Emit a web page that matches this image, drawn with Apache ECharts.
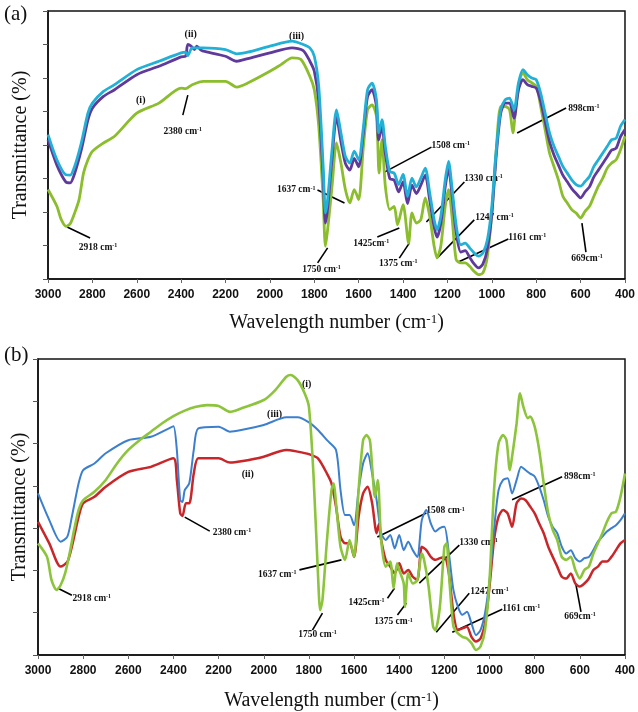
<!DOCTYPE html>
<html>
<head>
<meta charset="utf-8">
<script src="https://cdn.jsdelivr.net/npm/echarts@6/dist/echarts.min.js"></script>
<style>
  html, body { margin: 0; padding: 0; background: #fff; }
  #chart { width: 638px; height: 712px; }
</style>
</head>
<body>
<div id="chart"></div>
<script>
// x tick labels (wavenumber, cm-1)
const xTicks = [3000, 2800, 2600, 2400, 2200, 2000, 1800, 1600, 1400, 1200, 1000, 800, 600, 400]

// panel (a) curves: [wavenumber, transmittance]
const aGreen = [
  [3000, 26.7], [2960, 21.7], [2940, 17.7], [2918, 15.7], [2900, 16.5], [2880, 19.7], [2860, 23.7],
  [2840, 31.6], [2820, 35.6], [2800, 38.1], [2750, 40.6], [2700, 42.6], [2600, 49.5], [2500, 52.5],
  [2400, 57], [2380, 56.8], [2350, 58], [2300, 59], [2200, 59], [2150, 57.3], [2100, 58.5],
  [2000, 62], [1950, 64], [1900, 66], [1860, 65.5], [1820, 60.5], [1800, 56.5], [1780, 45.6],
  [1760, 23.7], [1750, 9.8], [1740, 14.7], [1720, 27.7], [1700, 40.6], [1680, 34.6], [1660, 26.7],
  [1640, 22.7], [1620, 26.7], [1600, 23.7], [1580, 38.6], [1560, 50.5], [1540, 52], [1520, 48.6],
  [1508, 31.6], [1495, 41.6], [1480, 27.7], [1460, 20.7], [1440, 21.7], [1425, 16.2], [1400, 22.2],
  [1375, 10.7], [1360, 19.7], [1340, 16.7], [1320, 17.7], [1300, 24.2], [1280, 18.7], [1260, 9.8],
  [1247, 6.3], [1230, 9.8], [1210, 21.7], [1195, 26.7], [1180, 19], [1161, 5.8], [1140, 4.8],
  [1120, 4.8], [1100, 3.8], [1080, 2.3], [1060, 1.3], [1040, 1.8], [1020, 6.8], [1000, 19.7],
  [980, 38.6], [960, 51.5], [940, 51.5], [920, 50.5], [905, 43.6], [890, 52.5], [870, 60.5],
  [860, 61.5], [840, 59.5], [800, 57.5], [780, 51.5], [760, 44.6], [740, 37.6], [720, 33.6],
  [700, 29.6], [680, 24.7], [660, 22.7], [640, 20.7], [620, 19.7], [600, 18.2], [580, 20.2],
  [560, 21.7], [540, 24.7], [520, 27.7], [500, 30.1], [480, 33.1], [460, 34.6], [440, 35.6],
  [420, 38.6], [400, 42.6]
]
const aPurple = [
  [3000, 41.6], [2960, 34], [2920, 29], [2900, 28.7], [2880, 31.5], [2850, 38.5], [2820, 47.5],
  [2800, 51], [2750, 54.5], [2700, 56.5], [2600, 61], [2500, 63.5], [2400, 66.3], [2380, 66.5],
  [2370, 70], [2355, 69.5], [2340, 68.5], [2330, 69.5], [2310, 68.3], [2300, 68], [2200, 66.5],
  [2150, 65], [2100, 65.8], [2000, 67.5], [1900, 69], [1850, 68.2], [1820, 65], [1800, 62],
  [1780, 53], [1760, 30], [1750, 16.7], [1740, 21], [1720, 36], [1700, 48.5], [1680, 41],
  [1660, 34.5], [1640, 32.5], [1620, 36], [1600, 33.5], [1580, 43], [1560, 54.5], [1540, 56.5],
  [1520, 51.5], [1510, 41.5], [1495, 45.5], [1480, 37.5], [1460, 30], [1440, 29.5], [1420, 26],
  [1400, 29], [1380, 22.5], [1360, 28], [1340, 25.5], [1320, 28], [1300, 31], [1280, 23.5],
  [1260, 15.5], [1247, 12.5], [1230, 16.5], [1210, 27.5], [1195, 33], [1180, 25.5], [1160, 13.5],
  [1140, 8], [1120, 8.5], [1100, 6.5], [1080, 4.5], [1060, 3.3], [1040, 4.5], [1020, 9],
  [1000, 19.5], [980, 37], [960, 49.5], [940, 52.5], [920, 52.5], [900, 48], [880, 56.5],
  [860, 59.5], [840, 58], [820, 57.5], [800, 57], [780, 53], [760, 47], [740, 41], [720, 37],
  [700, 34], [680, 31], [660, 29], [640, 27], [620, 25.5], [600, 24.2], [580, 26], [560, 27.5],
  [540, 30.5], [520, 32.5], [500, 34.5], [480, 36.5], [460, 38.5], [440, 39], [420, 42.5], [400, 44.6]
]
const aCyan = [
  [3000, 43.1], [2960, 35.6], [2920, 31.1], [2900, 31], [2880, 33.6], [2850, 40.6], [2820, 49.5],
  [2800, 52.5], [2750, 56], [2700, 58], [2600, 62.5], [2500, 65], [2400, 67.5], [2380, 67.7],
  [2370, 66.7], [2350, 69], [2300, 69], [2200, 68.5], [2150, 67.2], [2100, 67.7], [2000, 69.5],
  [1900, 71], [1850, 70], [1820, 69], [1800, 66.5], [1780, 57.5], [1760, 33.6], [1750, 19.7],
  [1740, 23.7], [1720, 38.6], [1700, 50.5], [1680, 43.6], [1660, 36.6], [1640, 34.6], [1620, 38.2],
  [1600, 35.6], [1580, 44.6], [1560, 56.5], [1540, 58.5], [1520, 53.5], [1510, 43.6], [1495, 47.6],
  [1480, 39.6], [1460, 32.1], [1440, 31.6], [1420, 28.2], [1400, 31.2], [1380, 24.7], [1360, 30.1],
  [1340, 27.5], [1320, 30.1], [1300, 33.1], [1280, 25.7], [1260, 17.7], [1247, 14.7], [1230, 18.7],
  [1210, 29.6], [1195, 35.1], [1180, 27.6], [1160, 15.7], [1140, 10.2], [1120, 10.7], [1100, 9.3],
  [1080, 7.8], [1060, 6.8], [1040, 7.8], [1020, 11.7], [1000, 21.7], [980, 38.6], [960, 50.5],
  [940, 53.5], [920, 54], [900, 50.5], [880, 58.5], [860, 62.5], [840, 61], [820, 60], [800, 59.5],
  [780, 55.5], [760, 49.5], [740, 43.6], [720, 39.6], [700, 36.6], [680, 33.6], [660, 31.6],
  [640, 29.6], [620, 28.2], [600, 27.7], [580, 29.1], [560, 30.6], [540, 33.6], [520, 35.6],
  [500, 37.6], [480, 39.6], [460, 41.6], [440, 42], [420, 45.6], [400, 47.6]
]

// panel (b) curves
const bGreen = [
  [3000, 26.4], [2960, 23.2], [2940, 17.7], [2918, 15.4], [2900, 16.5], [2880, 19.3], [2860, 24],
  [2840, 29.6], [2820, 34.3], [2800, 36.6], [2750, 38.6], [2700, 41.4], [2650, 45.3], [2600, 48.5],
  [2550, 50.8], [2500, 52.8], [2450, 54.8], [2400, 56.5], [2350, 57.8], [2300, 58.7], [2250, 59.1],
  [2200, 58.9], [2150, 57.5], [2100, 58.3], [2000, 60.3], [1950, 62.6], [1900, 65.8], [1880, 66.2],
  [1850, 65], [1820, 62], [1800, 58.7], [1780, 42.9], [1760, 19.3], [1750, 10.6], [1740, 13],
  [1720, 27.2], [1700, 39], [1690, 40.6], [1680, 36], [1660, 25.6], [1640, 22.5], [1620, 27.2],
  [1600, 23.2], [1580, 39], [1560, 50.8], [1545, 52], [1530, 50.8], [1520, 44.5], [1508, 37.4],
  [1495, 41.4], [1480, 27.2], [1460, 20.9], [1440, 22.1], [1425, 15.8], [1410, 21.7], [1400, 20.1],
  [1380, 16.9], [1375, 11.4], [1360, 19.3], [1340, 16.9], [1320, 17.7], [1300, 24], [1290, 22.5],
  [1270, 16.2], [1250, 6.7], [1240, 5.9], [1220, 11.4], [1200, 25.6], [1190, 26.4], [1180, 19.3],
  [1160, 6.7], [1140, 5.1], [1120, 4.3], [1100, 3.9], [1080, 2.8], [1060, 1.2], [1040, 2],
  [1020, 5.9], [1000, 17.7], [980, 39], [960, 50], [940, 52], [925, 50.8], [910, 43.7], [900, 46.9],
  [880, 54.8], [865, 61.9], [850, 58.7], [830, 56], [820, 56.4], [800, 54], [780, 48.5], [760, 40.6],
  [740, 33.5], [720, 29.6], [700, 27.2], [680, 23.2], [660, 22.5], [640, 23.2], [620, 20.1],
  [600, 18.1], [580, 20.1], [560, 20.9], [540, 24], [520, 26.4], [500, 28.8], [480, 31.5],
  [460, 33.5], [440, 33.9], [420, 37.4], [400, 42.9]
]
const bRed = [
  [3000, 31.5], [2950, 26.4], [2900, 20.9], [2870, 22], [2850, 25.6], [2820, 32.7], [2800, 35.9],
  [2750, 37.4], [2700, 39.8], [2600, 43.3], [2500, 44.5], [2400, 46.5], [2385, 41.4], [2370, 33.5],
  [2360, 32.9], [2345, 35.9], [2330, 35.9], [2310, 42.9], [2290, 46.5], [2200, 46.5], [2150, 45.5],
  [2100, 45.8], [2000, 46.9], [1900, 48.5], [1850, 48.1], [1800, 47.5], [1760, 46.5], [1720, 42.9],
  [1700, 40.6], [1680, 35.1], [1660, 28], [1640, 26.4], [1620, 26.4], [1600, 23.2], [1580, 32.7],
  [1560, 38.2], [1540, 39.8], [1520, 35.9], [1500, 28.8], [1490, 31], [1480, 27.2], [1460, 22.5],
  [1440, 20.9], [1420, 19.3], [1400, 21.7], [1380, 19.3], [1360, 20.1], [1340, 18.5], [1320, 17.7],
  [1300, 25.6], [1280, 24.8], [1260, 23.2], [1240, 22.5], [1220, 22.9], [1200, 23.2], [1180, 19.3],
  [1160, 9.9], [1140, 5.9], [1120, 6.3], [1100, 6.7], [1080, 4.3], [1060, 3.2], [1040, 3.9],
  [1020, 7.5], [1000, 16.2], [980, 27.2], [960, 32.7], [940, 34.3], [920, 33.5], [900, 30.3],
  [880, 35.9], [860, 37], [840, 36.6], [820, 35.1], [800, 33.5], [780, 31.1], [760, 28.8],
  [740, 25.6], [720, 23.2], [700, 20.9], [680, 18.5], [660, 18.1], [640, 19.3], [620, 16.9],
  [600, 16.2], [580, 16.9], [560, 18.1], [540, 20.1], [520, 20.9], [500, 22.1], [480, 22.1],
  [460, 23.2], [440, 24.8], [420, 26.4], [400, 27.2]
]
const bBlue = [
  [3000, 38.2], [2950, 31.9], [2900, 26.8], [2870, 28], [2850, 32.7], [2820, 40.6], [2800, 43.7],
  [2750, 45.3], [2700, 47.7], [2600, 50.8], [2500, 51.6], [2420, 53.6], [2400, 54.1], [2385, 48.5],
  [2370, 36.6], [2360, 36.2], [2350, 39], [2330, 40.6], [2310, 48.5], [2290, 53.6], [2200, 54],
  [2150, 52.8], [2100, 53.2], [2000, 54.4], [1900, 56.2], [1850, 56.2], [1800, 55], [1760, 53.2],
  [1720, 50.8], [1680, 48.5], [1660, 39], [1640, 33.1], [1620, 33.1], [1600, 30.7], [1580, 39],
  [1560, 45.3], [1540, 47.7], [1520, 42.9], [1500, 36.6], [1480, 28.8], [1460, 27.2], [1440, 28.4],
  [1420, 25.2], [1400, 28.4], [1380, 24.8], [1360, 26.8], [1340, 24.8], [1320, 23.2], [1300, 31.9],
  [1280, 34.3], [1260, 31.1], [1240, 29.2], [1220, 30], [1200, 30.3], [1180, 24], [1160, 15.4],
  [1140, 11.4], [1120, 9.5], [1100, 10.2], [1080, 7.5], [1060, 4.7], [1040, 5.9], [1020, 9.9],
  [1000, 17.7], [980, 29.6], [960, 39], [940, 41.4], [920, 41.8], [900, 38.2], [880, 41.4],
  [860, 44.5], [840, 43.7], [820, 42.9], [800, 42.2], [780, 39.8], [760, 36.6], [740, 32.7],
  [720, 30.3], [700, 28.8], [680, 25.6], [660, 24], [640, 24.8], [620, 22.9], [600, 22.1],
  [580, 22.9], [560, 23.2], [540, 24.8], [520, 26.8], [500, 28], [480, 29.2], [460, 30],
  [440, 30.7], [420, 31.9], [400, 33.5]
]

// peak annotations: text, anchor [wn, T], line end offset, text offset, text align
const aNotes = [
  ['2918 cm{s|-1}', [2914, 15.5], [23, 11], [31, 20], 'center'],
  ['2380 cm{s|-1}', [2370, 54.9], [-5, 20], [-5, 36], 'center'],
  ['1637 cm{s|-1}', [1664, 22.7], [-27, -13], [-29, -13], 'right'],
  ['1750 cm{s|-1}', [1740, 9.3], [-10, 15], [-6, 22], 'center'],
  ['1508 cm{s|-1}', [1484, 31.9], [47, -25], [47, -27], 'left'],
  ['1425cm{s|-1}', [1417, 15.2], [-22, 9], [-28, 15], 'center'],
  ['1375 cm{s|-1}', [1372, 10.7], [-10, 15], [-11, 20], 'center'],
  ['1330 cm{s|-1}', [1295, 17], [38, -40], [38, -44], 'left'],
  ['1247 cm{s|-1}', [1246, 6.3], [37, -38], [38, -40], 'left'],
  ['1161 cm{s|-1}', [1151, 5.1], [50, -23], [50, -24], 'left'],
  ['898cm{s|-1}', [886, 43.6], [49, -25], [51, -24], 'left'],
  ['669cm{s|-1}', [594, 16.7], [4, 29], [5, 35], 'center']
]
const bNotes = [
  ['2918 cm{s|-1}', [2912, 15.8], [14, 7], [34, 10], 'center'],
  ['2380 cm{s|-1}', [2350, 32.6], [25, 14], [28, 15], 'left'],
  ['1637 cm{s|-1}', [1656, 22.5], [-42, 10], [-45, 15], 'right'],
  ['1750 cm{s|-1}', [1740, 9.9], [-10, 17], [-5, 21], 'center'],
  ['1508 cm{s|-1}', [1497, 27.9], [49, -24], [49, -26], 'left'],
  ['1425cm{s|-1}', [1421, 15.8], [-7, 10], [-28, 14], 'center'],
  ['1375 cm{s|-1}', [1368, 12.3], [-9, 12], [-13, 19], 'center'],
  ['1330 cm{s|-1}', [1311, 17], [40, -38], [40, -41], 'left'],
  ['1247 cm{s|-1}', [1236, 5.4], [33, -39], [34, -41], 'left'],
  ['1161 cm{s|-1}', [1165, 5.4], [50, -23], [50, -24], 'left'],
  ['898cm{s|-1}', [900, 36.7], [50, -23], [52, -23], 'left'],
  ['669cm{s|-1}', [617, 16.6], [5, 27], [4, 32], 'center']
]
// curve tags: text, [wn, T]
const aTags = [['(ii)', [2357, 73.1]], ['(iii)', [1880, 72.5]], ['(i)', [2582, 53.4]]]
const bTags = [['(i)', [1810, 63.9]], ['(iii)', [1952, 57]], ['(ii)', [2071, 42.6]]]

const chart = echarts.init(document.getElementById('chart'))
const serif = 'Liberation Serif, Times New Roman, serif'
const narrow = 'Liberation Sans Narrow, Liberation Sans, Arial, sans-serif'

function xAxisFor (grid, nameGap) {
  return {
    type: 'value', gridIndex: grid, min: 400, max: 3000, interval: 200, inverse: true,
    name: 'Wavelength number (cm{s|-1})', nameLocation: 'middle', nameGap: nameGap,
    nameTextStyle: {
      fontFamily: serif, fontSize: 20, color: '#111',
      rich: { s: { fontFamily: serif, fontSize: 13, verticalAlign: 'top', color: '#111' } }
    },
    axisLine: { show: true, lineStyle: { color: '#111', width: 1.5 } },
    axisTick: { show: true, length: 4, lineStyle: { color: '#666' } },
    axisLabel: {
      margin: 10, fontFamily: narrow, fontWeight: 'bold', fontSize: 12, color: '#111',
      formatter: v => String(v)
    },
    splitLine: { show: false }
  }
}
function yAxisFor (grid, max, nameGap) {
  return {
    type: 'value', gridIndex: grid, min: 0, max: max, interval: 10,
    name: 'Transmittance (%)', nameLocation: 'middle', nameGap: nameGap,
    nameTextStyle: { fontFamily: serif, fontSize: 20, color: '#111' },
    axisLine: { show: true, lineStyle: { color: '#111', width: 1.5 } },
    axisTick: { show: true, inside: false, length: 5, lineStyle: { color: '#555' } },
    axisLabel: { show: false },
    splitLine: { show: false }
  }
}
function line (data, color, width, grid) {
  return {
    type: 'line', data: data, xAxisIndex: grid, yAxisIndex: grid,
    showSymbol: false, smooth: 0.25, silent: true,
    lineStyle: { color: color, width: width }
  }
}

chart.setOption({
  backgroundColor: '#fff',
  animation: false,
  grid: [
    { left: 48, top: 11, width: 578, height: 268, show: true, borderColor: '#111', borderWidth: 1.5 },
    { left: 38, top: 359, width: 588, height: 296, show: true, borderColor: '#111', borderWidth: 1.5 }
  ],
  xAxis: [xAxisFor(0, 34), xAxisFor(1, 36)],
  yAxis: [yAxisFor(0, 80, 17), yAxisFor(1, 70, 8)],
  series: [
    line(aGreen, '#8bbd2c', 2.8, 0),
    line(aPurple, '#5f3a9c', 2.8, 0),
    line(aCyan, '#22b0d6', 2.8, 0),
    line(bRed, '#c9262a', 2.5, 1),
    line(bBlue, '#3b7fce', 2, 1),
    line(bGreen, '#8cc43c', 2.6, 1)
  ]
})

// annotations placed from data coordinates
const graphics = []
const noteFont = { fontFamily: serif, fontWeight: 'bold', fontSize: 9.5, fill: '#111' }
function addNotes (notes, tags, grid) {
  notes.forEach(n => {
    const p = chart.convertToPixel({ xAxisIndex: grid, yAxisIndex: grid }, n[1])
    graphics.push({
      type: 'line', silent: true,
      shape: { x1: p[0], y1: p[1], x2: p[0] + n[2][0], y2: p[1] + n[2][1] },
      style: { stroke: '#000', lineWidth: 1.6 }
    })
    graphics.push({
      type: 'text', silent: true, x: p[0] + n[3][0], y: p[1] + n[3][1],
      style: Object.assign({}, noteFont, {
        text: n[0], align: n[4], verticalAlign: 'middle',
        rich: {
          s: { fontFamily: serif, fontWeight: 'bold', fontSize: 6, verticalAlign: 'top', fill: '#111' }
        }
      })
    })
  })
  tags.forEach(t => {
    const p = chart.convertToPixel({ xAxisIndex: grid, yAxisIndex: grid }, t[1])
    graphics.push({
      type: 'text', silent: true, x: p[0], y: p[1],
      style: Object.assign({}, noteFont, { text: t[0], fontSize: 10, align: 'center', verticalAlign: 'middle' })
    })
  })
}
addNotes(aNotes, aTags, 0)
addNotes(bNotes, bTags, 1)
graphics.push({ type: 'text', left: 4, top: 4, style: { text: '(a)', fontFamily: serif, fontSize: 21, fill: '#111' } })
graphics.push({ type: 'text', left: 4, top: 345, style: { text: '(b)', fontFamily: serif, fontSize: 21, fill: '#111' } })
chart.setOption({ graphic: graphics })
</script>
</body>
</html>
